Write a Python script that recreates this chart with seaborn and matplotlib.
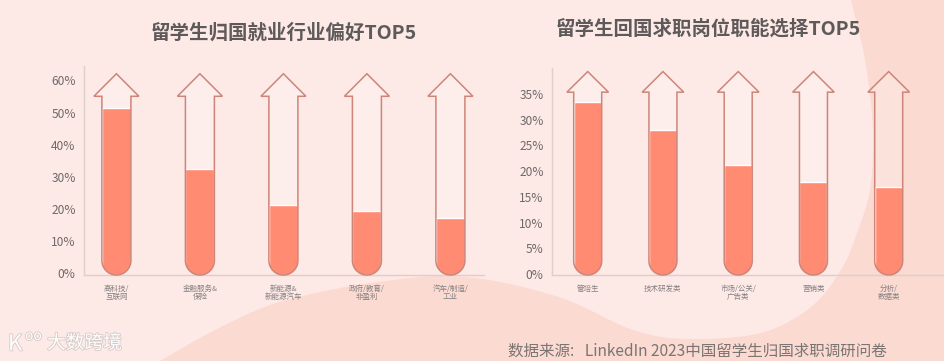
import matplotlib
matplotlib.use("Agg")
import matplotlib.pyplot as plt
import matplotlib.patheffects as pe
import seaborn as sns
from matplotlib.path import Path
from matplotlib.patches import PathPatch
from matplotlib.transforms import ScaledTranslation

sns.set_theme(style="white")
plt.rcParams['font.family'] = ['Noto Sans CJK SC', 'DejaVu Sans']

title_left = "留学生归国就业行业偏好TOP5"
title_right = "留学生回国求职岗位职能选择TOP5"
source_text = "数据来源:   LinkedIn 2023中国留学生归国求职调研问卷"
watermark_text = "大数跨境"

cats_left = ["高科技/\n互联网", "金融服务&\n保险", "新能源&\n新能源汽车", "政府/教育/\n非盈利", "汽车/制造/\n工业"]
vals_left = [52, 33, 21.7, 19.9, 17.7]
ticks_left = [0, 10, 20, 30, 40, 50, 60]

cats_right = ["管培生", "技术研发类", "市场/公关/\n广告类", "营销类", "分析/\n数据类"]
vals_right = [33.6, 28.2, 21.4, 18.1, 17.1]
ticks_right = [0, 5, 10, 15, 20, 25, 30, 35]

W, H = 944, 361
BG = "#FDE9E6"
BAND = "#FBDAD2"
FILL = "#FF8B72"
EDGE = "#CE8579"
GREY = "#6E6A69"
AXIS = "#DCCFCC"

fig = plt.figure(figsize=(W / 100, H / 100), dpi=100, facecolor=BG)

bg = fig.add_axes([0, 0, 1, 1], zorder=0)
bg.set_xlim(0, W); bg.set_ylim(H, 0); bg.axis("off")


def smooth(points):
    v = [points[0]]
    c = [Path.MOVETO]
    n = len(points)
    for i in range(n - 1):
        p0 = points[max(i - 1, 0)]
        p1 = points[i]
        p2 = points[i + 1]
        p3 = points[min(i + 2, n - 1)]
        v += [(p1[0] + (p2[0] - p0[0]) / 6, p1[1] + (p2[1] - p0[1]) / 6),
              (p2[0] - (p3[0] - p1[0]) / 6, p2[1] - (p3[1] - p1[1]) / 6), p2]
        c += [Path.CURVE4] * 3
    v += [(944, 0), (944, 361), points[0]]
    c += [Path.LINETO, Path.LINETO, Path.CLOSEPOLY]
    return Path(v, c)


edge_pts = [(160, 361), (215, 330), (270, 305), (330, 290), (393, 280), (445, 276), (500, 282),
            (567, 300), (633, 330), (687, 339), (761, 333), (811, 307), (841, 270), (857, 233),
            (870, 190), (873, 130), (865, 60), (851, 0)]
bg.add_patch(PathPatch(smooth(edge_pts), facecolor=BAND, edgecolor="none"))


def arrow_path(cx, half_w, wing, bottom, shoulder, tip, ry):
    k = 0.5523
    v = [(cx - half_w, bottom + ry),
         (cx - half_w, shoulder), (cx - wing, shoulder), (cx, tip), (cx + wing, shoulder),
         (cx + half_w, shoulder), (cx + half_w, bottom + ry),
         (cx + half_w, bottom + ry - k * ry), (cx + k * half_w, bottom), (cx, bottom),
         (cx - k * half_w, bottom), (cx - half_w, bottom + ry - k * ry), (cx - half_w, bottom + ry),
         (cx - half_w, bottom + ry)]
    c = [Path.MOVETO] + [Path.LINETO] * 6 + [Path.CURVE4] * 6 + [Path.CLOSEPOLY]
    return Path(v, c)


def panel(cats, vals, ticks, left, right, top, base, cx0, step, ppu, tip, shoulder, half_px, wing_px, fs, lift):
    ax = fig.add_axes([left / W, 1 - base / H, (right - left) / W, (base - top) / H], zorder=2)
    ax.patch.set_alpha(0)
    sns.barplot(x=cats, y=vals, ax=ax, color=FILL, width=2 * half_px / step, saturation=1, zorder=2)
    ax.set_xlim((left - cx0) / step, (right - cx0) / step)
    ax.set_ylim(0, (base - top) / ppu)
    hw, wg, ry = half_px / step, wing_px / step, half_px / ppu
    for i, bar in enumerate(ax.patches):
        p = arrow_path(i, hw, wg, 0, shoulder, tip, ry)
        bar.set_clip_path(p, ax.transData)
        ax.add_patch(PathPatch(p, facecolor="#FFFFFF", alpha=0.22, edgecolor="none", zorder=1))
        ax.add_patch(PathPatch(p, facecolor="none", edgecolor=EDGE, lw=1.1, zorder=3, clip_on=False))
    ax.set_yticks(ticks, [f"{t}%" for t in ticks])
    ax.set_xticks(range(len(cats)), cats)
    ax.tick_params(axis="y", length=0, pad=6, labelsize=fs, labelcolor=GREY)
    ax.tick_params(axis="x", length=0, pad=7, labelsize=5.4, labelcolor="#858181")
    for lab in ax.get_yticklabels():
        lab.set_transform(lab.get_transform() + ScaledTranslation(0, lift / 100, fig.dpi_scale_trans))
    for lab in ax.get_xticklabels():
        lab.set_linespacing(1.1)
    ax.set_xlabel(""); ax.set_ylabel("")
    for s in ("top", "right"):
        ax.spines[s].set_visible(False)
    for s in ("left", "bottom"):
        ax.spines[s].set_color(AXIS); ax.spines[s].set_linewidth(1)
    return ax


panel(cats_left, vals_left, ticks_left, 84, 484, 66, 275, 116.4, 83.5, 3.22, 62.5, 55.5, 14.5, 22.5, 8.6, 1.5)
panel(cats_right, vals_right, ticks_right, 552, 944, 68, 275, 587.7, 75.25, 5.15, 39.5, 35.5, 14, 20.8, 8.6, 1)

fig.text(284 / W, 1 - 33 / H, title_left, ha="center", va="center", fontsize=14, color="#5E5A5A", fontweight="bold")
fig.text(708 / W, 1 - 29 / H, title_right, ha="center", va="center", fontsize=14, color="#5E5A5A", fontweight="bold")
fig.text(508 / W, 1 - 351 / H, source_text, ha="left", va="center", fontsize=11.2, color="#7A7472")

shadow = [pe.withStroke(linewidth=1.2, foreground="#BDB3B0", alpha=0.6)]
for txt, px, py, size in [(watermark_text, 47, 343, 13.5), ("K", 8, 344, 16), ("oo", 25, 336, 10)]:
    t = fig.text(px / W, 1 - py / H, txt, ha="left", va="center", fontsize=size, color="#FFFFFF")
    t.set_path_effects(shadow)

fig.savefig("out.png", dpi=100, facecolor=BG)
